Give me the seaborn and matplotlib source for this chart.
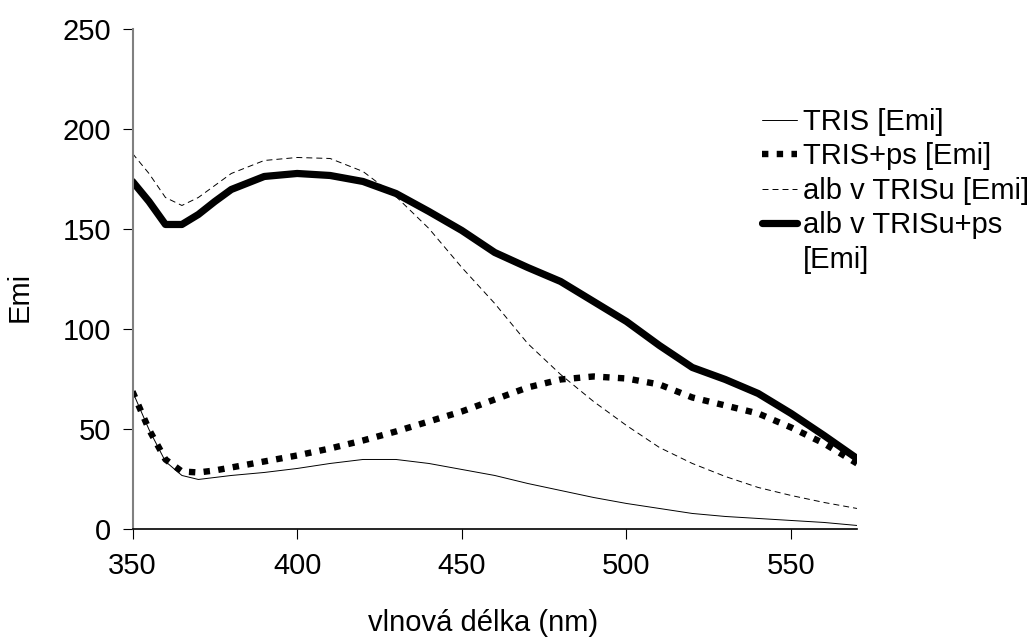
import matplotlib
matplotlib.use("Agg")
import matplotlib.pyplot as plt
from matplotlib.lines import Line2D
import seaborn as sns
import pandas as pd

wavelength = [350, 355, 360, 365, 370, 375, 380, 390, 400, 410, 420, 430, 440,
              450, 460, 470, 480, 490, 500, 510, 520, 530, 540, 550, 560, 570]
tris = [69, 50, 34, 27, 25, 26, 27, 28.5, 30.5, 33, 35, 35, 33,
        30, 27, 23, 19.5, 16, 13, 10.5, 8, 6.5, 5.5, 4.5, 3.5, 2]
tris_ps = [69, 50, 35, 29, 28.5, 29.5, 31, 34, 37, 40.5, 44.5, 49, 54,
           59, 65, 71, 75, 76.5, 75.5, 72.5, 66, 62, 58, 51, 43, 33]
alb = [188, 178, 166, 162, 166, 172, 178, 184.5, 186, 185.5, 179, 166.5, 150.5,
       131, 113, 93, 77.5, 64, 52, 41, 33, 26.5, 21, 17, 13.5, 10.5]
alb_ps = [174, 164, 152.5, 152.5, 157.5, 164, 170, 176.5, 178, 177, 174, 168, 159,
          149.5, 138.5, 131, 124, 114, 104, 92, 81, 75, 68, 58, 47, 35.5]

series_names = ["TRIS [Emi]", "TRIS+ps [Emi]", "alb v TRISu [Emi]", "alb v TRISu+ps [Emi]"]
legend_labels = ["TRIS [Emi]", "TRIS+ps [Emi]", "alb v TRISu [Emi]", "alb v TRISu+ps", "[Emi]"]
x_ticks = [350, 400, 450, 500, 550]
y_ticks = [0, 50, 100, 150, 200, 250]

sns.set_style("white")
plt.rcParams["font.family"] = ["Liberation Sans", "DejaVu Sans"]
plt.rcParams["lines.scale_dashes"] = False
plt.rcParams["text.color"] = "black"
plt.rcParams["axes.labelcolor"] = "black"
plt.rcParams["xtick.color"] = "black"
plt.rcParams["ytick.color"] = "black"

fs = 21
fig = plt.figure(figsize=(10.32, 6.41), dpi=100)
ax = fig.add_axes([0.1284, 0.174, 0.702, 0.780])

styles = [
    dict(lw=0.7, ls="-"),
    dict(lw=4.6, ls=(0, (4.6, 6.0))),
    dict(lw=0.7, ls=(0, (4.3, 2.9))),
    dict(lw=5.2, ls="-"),
]
data = [tris, tris_ps, alb, alb_ps]
handles = []
for name, vals, st in zip(series_names, data, styles):
    df = pd.DataFrame({"x": wavelength, "y": vals})
    sns.lineplot(data=df, x="x", y="y", ax=ax, color="black",
                 linewidth=st["lw"], linestyle=st["ls"], legend=False)
    handles.append(Line2D([], [], color="black", linewidth=st["lw"], linestyle=st["ls"]))
handles.append(Line2D([], [], color="none", linewidth=0))

ax.set_xlim(350, 570)
ax.set_ylim(0, 250)
ax.set_xticks(x_ticks)
ax.set_yticks(y_ticks)
ax.tick_params(axis="both", labelsize=fs, length=7.5, width=0.8, color="black",
               labelcolor="black", direction="out", left=True, bottom=True)
ax.tick_params(axis="y", pad=8)
ax.tick_params(axis="x", pad=9)
for s in ["top", "right"]:
    ax.spines[s].set_visible(False)
ax.spines["left"].set_color("#808080")
ax.spines["left"].set_linewidth(1.5)
ax.spines["bottom"].set_color("black")
ax.spines["bottom"].set_linewidth(1.2)

ax.set_xlabel("vlnová délka (nm)", fontsize=fs, color="black")
ax.set_ylabel("Emi", fontsize=fs, color="black")
ax.xaxis.set_label_coords(0.4845, -0.16)
ax.yaxis.set_label_coords(-0.137, 0.465)

fig.legend(handles, legend_labels, loc="upper left", bbox_to_anchor=(762 / 1032, 1 - 108 / 641),
           frameon=False, fontsize=fs, handlelength=1.2, handletextpad=0.2,
           labelspacing=0.22, borderpad=0, borderaxespad=0, labelcolor="black")

fig.savefig("out.png", dpi=100)
